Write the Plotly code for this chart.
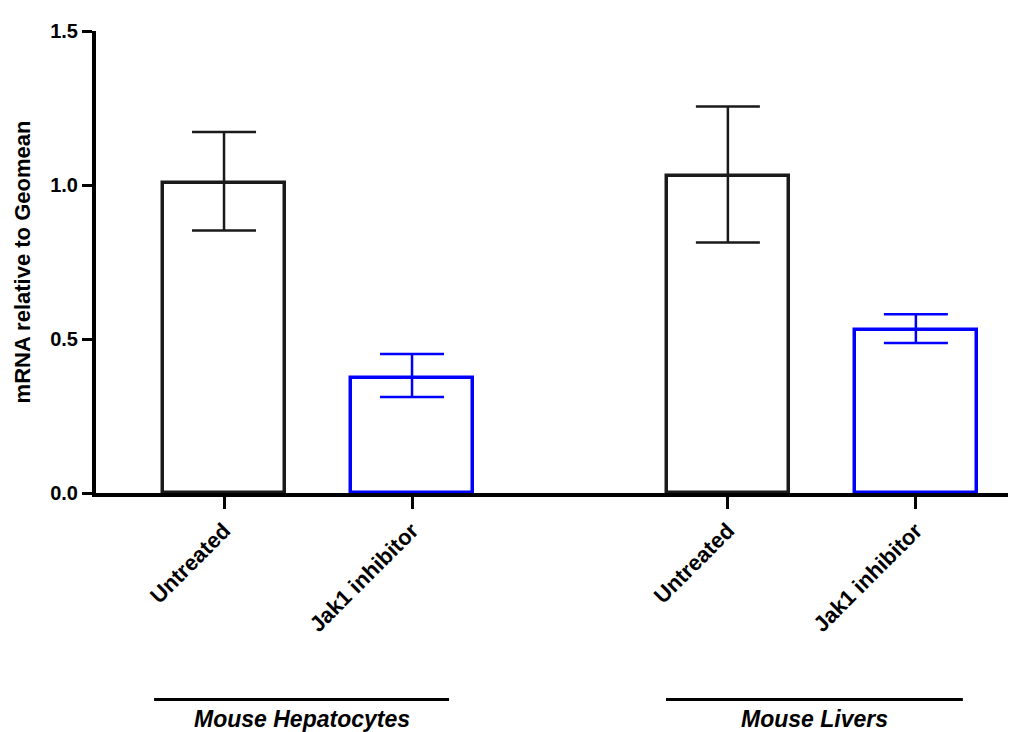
import plotly.graph_objects as go

# Data
groups = ["Mouse Hepatocytes", "Mouse Livers"]
treatments = ["Untreated", "Jak1 inhibitor"]
hep_means = [1.005, 0.374]
hep_err_plus = [0.167, 0.077]
hep_err_minus = [0.153, 0.062]
liv_means = [1.029, 0.529]
liv_err_plus = [0.226, 0.051]
liv_err_minus = [0.216, 0.042]
y_ticks = [0.0, 0.5, 1.0, 1.5]

colors = ["#1a1a1a", "#0000ff"]
group_offset = 2.68
bar_width = 0.65

fig = go.Figure()
all_means = [hep_means, liv_means]
all_plus = [hep_err_plus, liv_err_plus]
all_minus = [hep_err_minus, liv_err_minus]
tickvals, ticktext = [], []
for g in range(len(groups)):
    for i, t in enumerate(treatments):
        x = g * group_offset + i
        tickvals.append(x)
        ticktext.append(t)
        fig.add_trace(go.Bar(
            x=[x], y=[all_means[g][i]], width=bar_width,
            marker=dict(color="rgba(0,0,0,0)", line=dict(color=colors[i], width=3.5)),
            error_y=dict(type="data", symmetric=False, array=[all_plus[g][i]],
                         arrayminus=[all_minus[g][i]], color=colors[i],
                         thickness=2.5, width=32),
            showlegend=False,
        ))

font_fam = "Liberation Sans, Arial, Helvetica, sans-serif"

fig.update_layout(
    width=1028, height=732,
    margin=dict(l=88, r=28, t=15, b=247),
    plot_bgcolor="white", paper_bgcolor="white",
    bargap=0,
    font=dict(family=font_fam, color="black"),
)
fig.update_xaxes(
    range=[-0.681, 4.17], tickvals=tickvals, ticktext=ticktext,
    tickangle=-45, ticks="outside", ticklen=12, tickwidth=3, tickcolor="black",
    showline=True, linecolor="black", linewidth=4, showgrid=False, zeroline=False,
    tickfont=dict(size=22, weight="bold", family=font_fam, color="black"),
)
fig.update_yaxes(
    range=[0, 1.5], tickvals=y_ticks, ticktext=[f"{v:.1f}" for v in y_ticks],
    ticks="outside", ticklen=10, tickwidth=3, tickcolor="black",
    showline=True, linecolor="black", linewidth=4, showgrid=False, zeroline=False,
    tickfont=dict(size=20, weight="bold", family=font_fam, color="black"),
    title=dict(text="mRNA relative to Geomean", standoff=14,
               font=dict(size=22, weight="bold", family=font_fam, color="black")),
)

group_spans = [(-0.372, 1.197), (2.351, 3.93)]
for (x0, x1), name in zip(group_spans, groups):
    fig.add_shape(type="line", xref="x", yref="paper", x0=x0, x1=x1, y0=-0.447, y1=-0.447,
                  line=dict(color="black", width=3))
    fig.add_annotation(x=(x0 + x1) / 2, y=-0.521, xref="x", yref="paper", text=name,
                       showarrow=False, yanchor="bottom",
                       font=dict(size=23, weight="bold", style="italic", family=font_fam, color="black"))

fig.write_html("out.html")
